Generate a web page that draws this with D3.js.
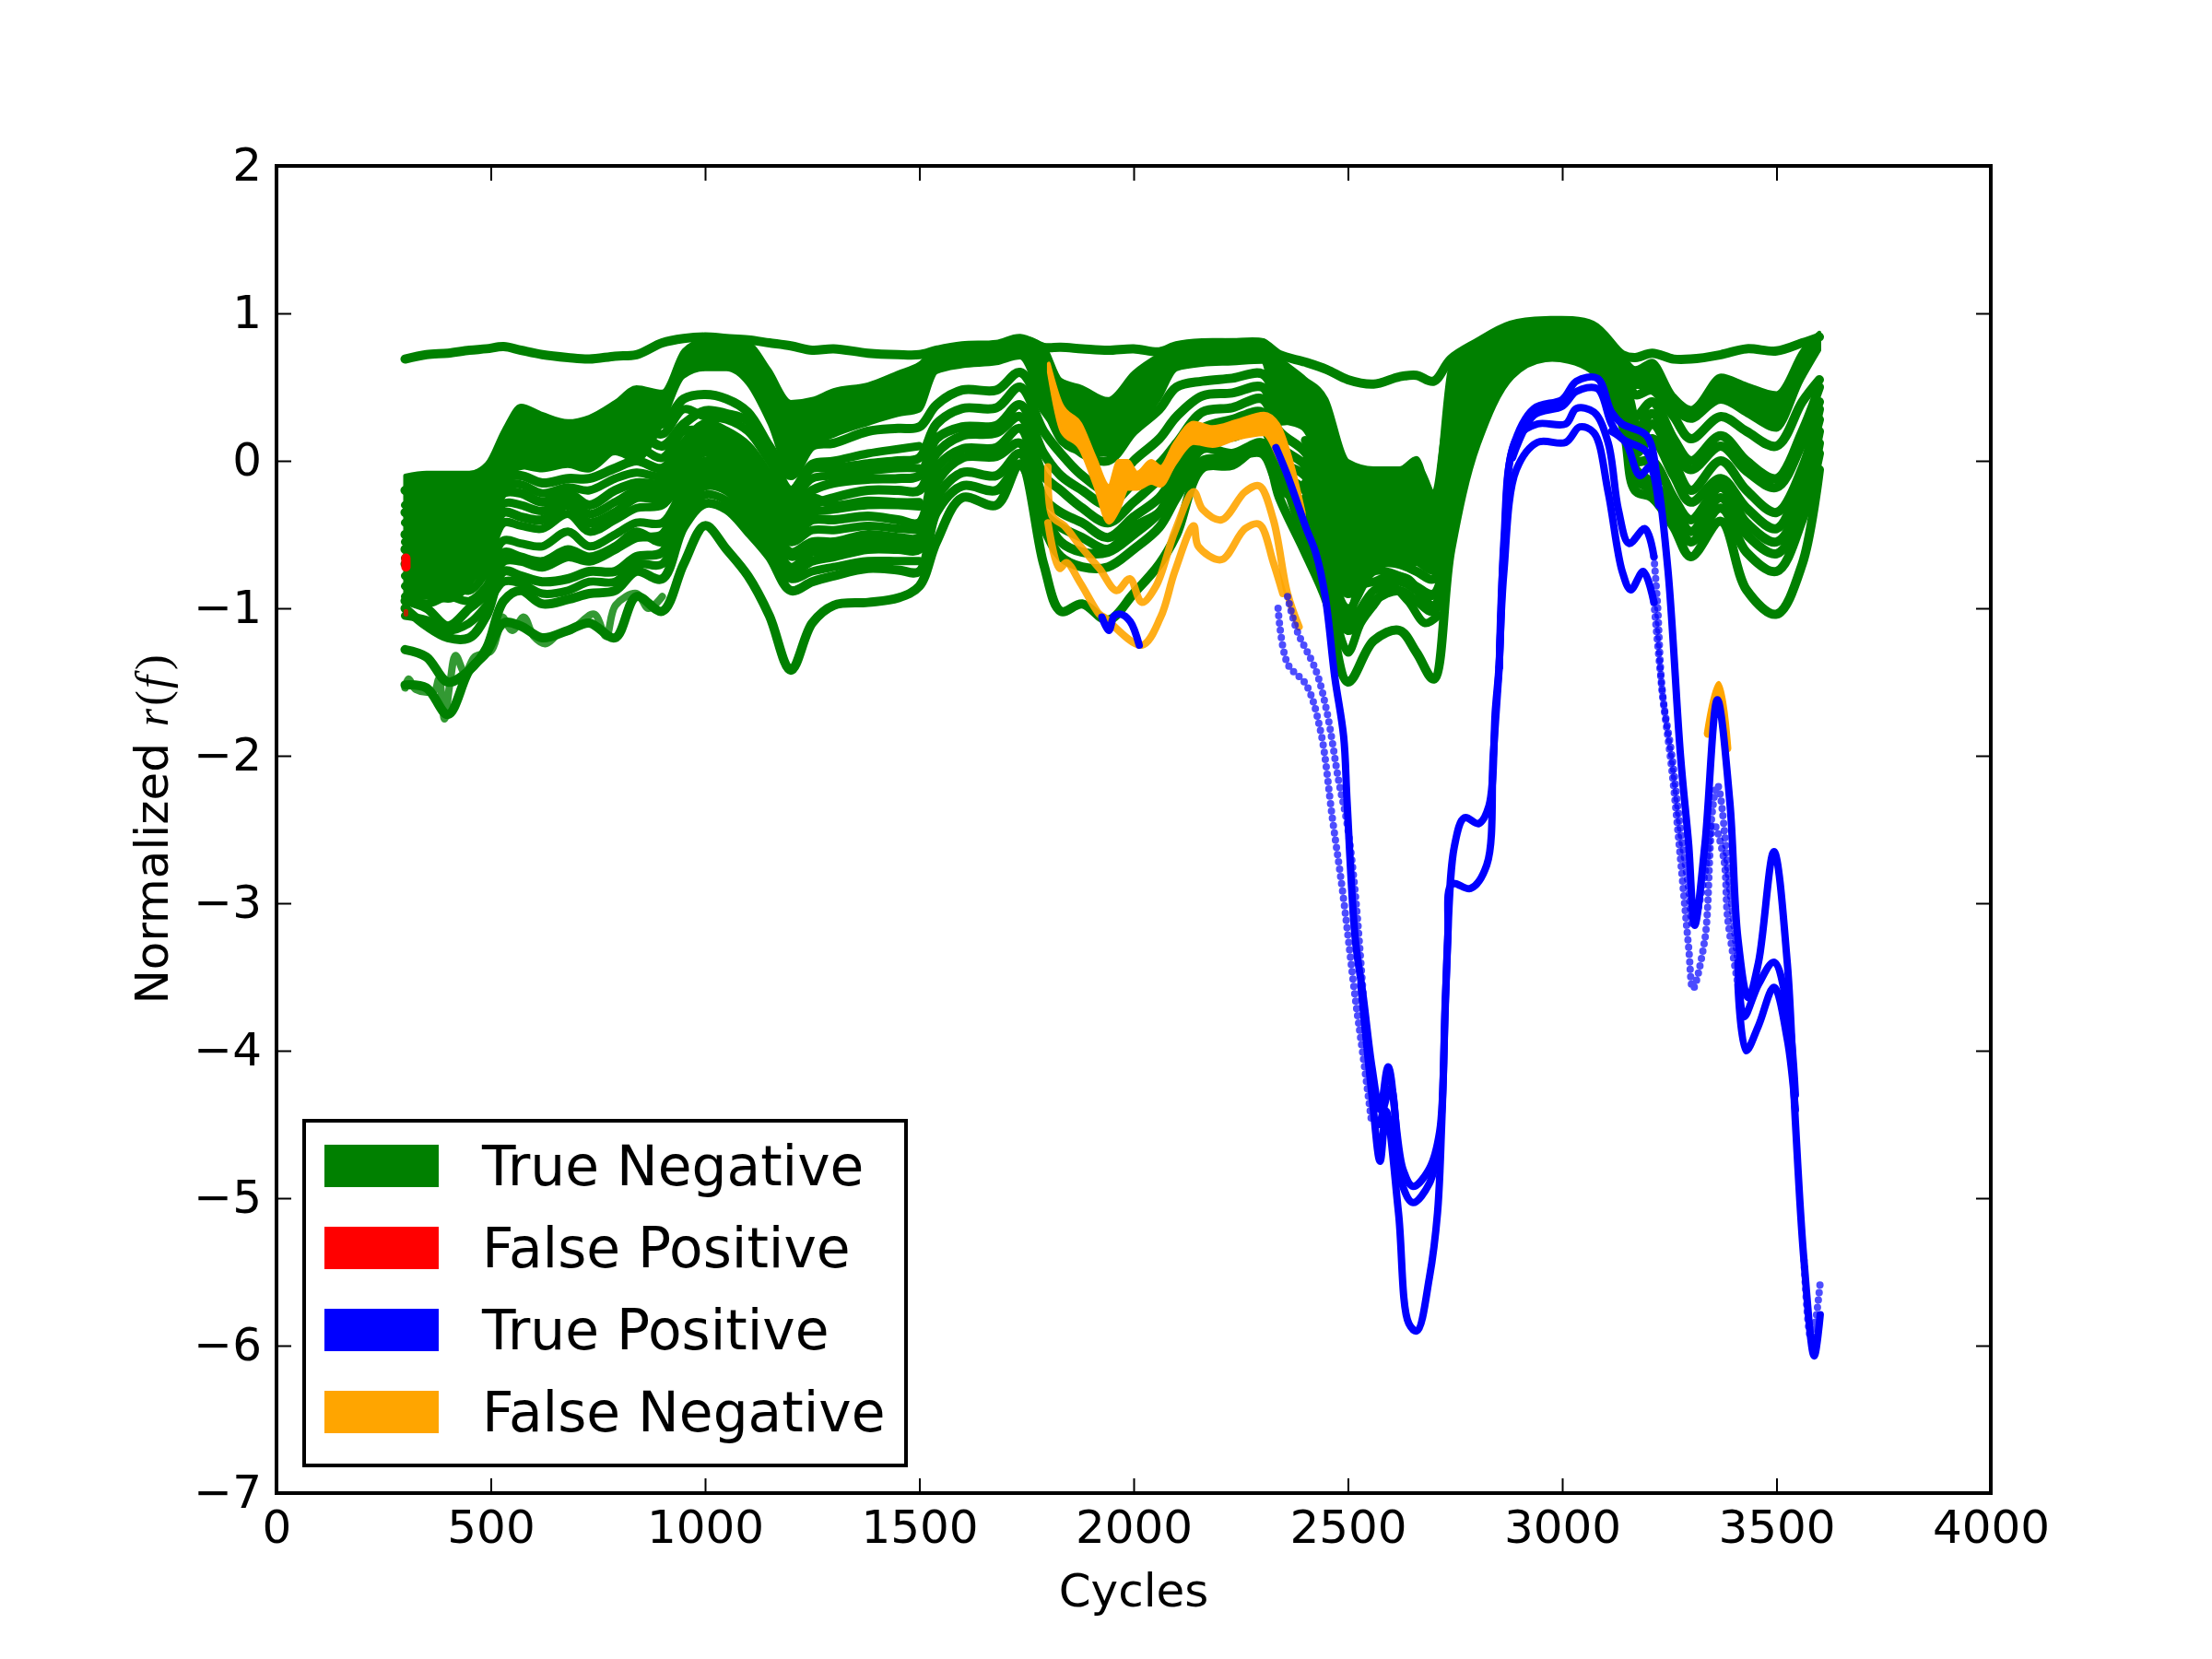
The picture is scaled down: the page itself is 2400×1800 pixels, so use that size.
<!DOCTYPE html>
<html><head><meta charset="utf-8">
<script src="https://cdn.jsdelivr.net/npm/d3@7"></script>
<style>html,body{margin:0;padding:0;background:#fff}svg{display:block}text{font-family:"DejaVu Sans";fill:#000}</style>
</head><body><svg id="c" width="2400" height="1800"></svg>
<script>
const xTicks=[0,500,1000,1500,2000,2500,3000,3500,4000];
const yTicks=[2,1,0,-1,-2,-3,-4,-5,-6,-7];
const legendLabels=["True Negative","False Positive","True Positive","False Negative"];
const legendColors=["#008000","#ff0000","#0000ff","#ffa500"];

const grid=[300,350,400,450,490,530,570,620,680,730,790,840,900,950,1000,1050,1100,1150,1200,1250,1300,1380,1450,1500,1540,1600,1680,1735,1790,1830,1880,1940,2000,2060,2100,2160,2230,2300,2340,2400,2450,2500,2560,2620,2660,2700,2740,2800,2880,2960,3070,3140,3170,3210,3260,3300,3370,3430,3500,3560,3600];
const tnBandTop=[-.1,-.08,-.08,-.08,-.02,.21,.375,.32,.27,.3,.4,.5,.47,.75,.82,.82,.8,.62,.4,.42,.48,.52,.6,.66,.76,.78,.8,.84,.78,.55,.5,.42,.6,.72,.78,.81,.82,.82,.7,.56,.42,0,-.05,-.05,.02,-.25,.65,.79,.92,.95,.92,.72,.63,.68,.45,.36,.58,.52,.46,.75,.87];
const tnBandBottom=[-.95,-.93,-.95,-.85,-.6,-.1,-.05,-.02,0,0,.05,0,.25,.57,.62,.62,.52,.25,-.1,.1,.17,.25,.31,.34,.6,.64,.66,.7,.35,.12,.05,.04,.2,.42,.62,.65,.66,.67,.25,.27,-.08,-.7,-.7,-.7,-.7,-.72,-.1,.55,.6,.7,.65,.5,.5,.5,.33,.27,.4,.31,.21,.55,.75];
const tnTop=[.69,.72,.73,.75,.76,.775,.75,.72,.7,.69,.71,.72,.8,.83,.84,.83,.82,.8,.78,.75,.76,.73,.72,.72,.75,.78,.79,.83,.77,.77,.76,.75,.76,.74,.78,.8,.8,.8,.72,.67,.62,.55,.52,.57,.58,.54,.69,.8,.92,.95,.92,.72,.7,.73,.69,.69,.72,.76,.745,.8,.84];
const tn1=[-.2,-.25,-.2,-.25,-.1,.1,.2,.15,.15,.12,.3,.3,.25,.42,.45,.42,.33,.1,-.1,.1,.12,.2,.22,.23,.38,.48,.48,.6,.35,.2,.05,0,.2,.35,.5,.54,.56,.59,.42,.27,0,-.3,-.1,-.08,-.05,-.25,.35,.7,.85,.9,.85,.65,.45,.48,.3,.15,.3,.2,.1,.4,.55];
const tn2=[-.35,-.4,-.35,-.4,-.25,0,.05,.03,.05,0,.15,.2,.1,.25,.34,.32,.27,.05,-.2,-.05,-.05,-.02,0,.02,.25,.355,.36,.5,.2,.05,-.1,-.2,0,.15,.3,.44,.46,.5,.3,.23,-.1,-.4,-.2,-.18,-.18,-.35,.2,.6,.8,.88,.82,.6,.3,.4,.15,0,.17,0,-.12,.2,.5];
const tn3=[-.5,-.52,-.5,-.5,-.4,-.12,-.1,-.15,-.12,-.12,-.05,0,-.05,.12,.25,.2,.1,-.1,-.3,-.2,-.15,-.125,-.12,-.1,.15,.23,.24,.38,.05,-.1,-.2,-.3,-.15,-.02,.12,.33,.36,.42,.2,.06,-.2,-.5,-.3,-.3,-.32,-.45,.1,.55,.78,.86,.8,.55,.2,.32,.08,-.06,.1,-.07,-.18,.12,.4];
const tn4=[-.6,-.62,-.6,-.62,-.5,-.22,-.22,-.28,-.22,-.3,-.2,-.15,-.15,.02,.15,.12,0,-.2,-.4,-.3,-.25,-.2,-.2,-.2,.05,.17,.19,.3,-.1,-.2,-.32,-.42,-.28,-.12,.02,.22,.28,.33,.1,-.03,-.3,-.6,-.4,-.42,-.42,-.52,0,.5,.75,.85,.78,.5,.1,.25,0,-.2,0,-.2,-.35,-.05,.35];
const tn5=[-.7,-.72,-.68,-.72,-.6,-.35,-.38,-.4,-.3,-.42,-.35,-.25,-.25,-.05,.06,.03,-.1,-.3,-.5,-.4,-.4,-.375,-.4,-.42,-.05,.08,.09,.22,-.25,-.35,-.42,-.52,-.38,-.25,-.08,.15,.16,.22,0,-.1,-.4,-.7,-.5,-.52,-.5,-.6,-.1,.45,.72,.82,.75,.45,.05,.15,-.1,-.28,-.12,-.32,-.46,-.1,.28];
const tn6=[-.95,-1,-1.12,-1,-.9,-.68,-.68,-.72,-.65,-.68,-.6,-.52,-.5,-.18,-.04,-.07,-.2,-.4,-.62,-.55,-.55,-.5,-.52,-.52,-.15,.02,.03,.12,-.35,-.45,-.52,-.6,-.45,-.35,-.2,.08,.05,.12,-.08,-.2,-.5,-.8,-.6,-.6,-.62,-.68,-.2,.4,.7,.8,.72,.4,0,0,-.25,-.4,-.18,-.42,-.55,-.25,.2];
const tn7=[-1,-1.12,-1.2,-1.2,-1.05,-.75,-.78,-.82,-.8,-.75,-.75,-.65,-.62,-.3,-.17,-.2,-.35,-.52,-.75,-.68,-.65,-.6,-.6,-.6,-.25,-.08,-.1,.05,-.35,-.55,-.62,-.62,-.5,-.35,-.15,-.02,.02,.05,-.18,-.31,-.6,-.9,-.7,-.7,-.75,-.8,-.3,.35,.66,.78,.7,.35,-.05,-.15,-.3,-.48,-.25,-.5,-.63,-.35,.12];
const tn8=[-1.28,-1.33,-1.5,-1.42,-1.27,-.95,-.88,-.97,-.94,-.9,-.88,-.75,-.8,-.45,-.29,-.33,-.48,-.65,-.88,-.82,-.78,-.73,-.74,-.75,-.35,-.17,-.2,-.03,-.45,-.65,-.72,-.72,-.6,-.45,-.25,0,.02,.12,-.05,-.52,-.75,-1.15,-.95,-.88,-.95,-1.02,-.42,.25,.62,.74,.66,.3,-.12,-.2,-.35,-.55,-.32,-.62,-.75,-.4,.05];
const tn9=[-1.52,-1.54,-1.72,-1.42,-1.3,-1.1,-1.12,-1.2,-1.15,-1.1,-1.2,-.92,-1.02,-.7,-.44,-.6,-.78,-1.05,-1.42,-1.1,-.98,-.96,-.93,-.85,-.55,-.25,-.3,-.02,-.7,-1.02,-.97,-1.08,-.9,-.7,-.5,-.05,-.03,.1,-.25,-.62,-.95,-1.5,-1.22,-1.15,-1.3,-1.48,-.6,.12,.58,.7,.62,.25,-.2,-.25,-.45,-.65,-.41,-.875,-1.04,-.7,-.06];
const tn10=[-.3,-.32,-.28,-.3,-.2,.05,.1,.12,.08,.06,.22,.25,.18,.35,.3,.28,.2,0,-.2,-.02,0,.05,.08,.1];
const tn11=[-.42,-.45,-.42,-.45,-.33,-.05,-.03,-.05,-.02,-.05,.08,.1,.02,.2,.2,.15,.05,-.15,-.25,-.12,-.1,-.07,-.05,-.05];
const tn12=[-.55,-.57,-.55,-.56,-.45,-.17,-.16,-.22,-.18,-.2,-.12,-.08,-.1,.07,.2,.16,.05,-.15,-.35,-.25,-.3,-.27,-.28,-.28];
const tn13=[-.66,-.68,-.64,-.67,-.55,-.29,-.3,-.34,-.26,-.36,-.28,-.2,-.2,-.02,.1,.07,-.05,-.25,-.45,-.35,-.33,-.3,-.3,-.31];
const tn14=[-.78,-.82,-.78,-.8,-.68,-.42,-.44,-.46,-.36,-.48,-.4,-.32,-.3,-.12,0,-.02,-.15,-.35,-.55,-.47,-.47,-.44,-.46,-.47];
const tn15=[-.85,-.9,-.85,-.88,-.75,-.54,-.56,-.58,-.48,-.58,-.5,-.42,-.42,-.2,-.08,-.1,-.25,-.45,-.65,-.58,-.58,-.55,-.56,-.56];
const tn16=[-.92,-.97,-.92,-.95,-.85,-.62,-.65,-.68,-.6,-.65,-.58,-.48,-.55,-.25,-.12,-.15,-.3,-.5,-.72,-.62,-.62,-.58,-.58,-.58];
const tn17=[-1.05,-1.08,-1.15,-1.1,-.98,-.82,-.83,-.9,-.88,-.82,-.82,-.7,-.7,-.38,-.23,-.27,-.42,-.6,-.8,-.75,-.72,-.68,-.68,-.68];
const lateGrid=[2400,2450,2500,2560,2620,2660,2700,2740,2800,2880,2960,3070,3140,3170];
const tnLate1=[.14,-.15,-.45,-.25,-.24,-.25,-.4,.15,.58,.79,.87,.81,.58,.25];
const tnLate2=[0,-.25,-.55,-.35,-.36,-.37,-.48,.05,.52,.76,.85,.79,.52,.15];
const tnLate3=[-.07,-.35,-.65,-.45,-.47,-.46,-.56,-.05,.47,.73,.83,.76,.47,.08];
const tnLate4=[-.15,-.45,-.75,-.55,-.56,-.56,-.64,-.15,.42,.71,.81,.73,.42,.02];
const tnLate5=[-.25,-.55,-.85,-.65,-.65,-.68,-.74,-.25,.38,.68,.79,.71,.38,-.02];
const tnLate6=[-.4,-.68,-1,-.75,-.78,-.85,-.9,-.36,.3,.64,.76,.68,.32,-.1];
const tnLate7=[-.45,-.85,-1.1,-.88,-.82,-.88,-.98,-.38,.2,.6,.72,.64,.28,-.15];
const tnJumbleCycles=[2470,2500,2530,2560,2600,2640,2680,2710];
const tnJumbleA=[-1.05,-1.3,-1.1,-.98,-.85,-.95,-1.1,-1.05];
const tnJumbleB=[-.9,-1.05,-.85,-.82,-.78,-.8,-.92,-.9];
const tnLowCycles=[300,308,325,368,379,392,405,418,440,462,500,516,527,550,577,600,627,660,687,741,769,791,840,868,900];
const tnLowValues=[-1.54,-1.48,-1.55,-1.56,-1.48,-1.75,-1.5,-1.32,-1.44,-1.33,-1.29,-1.17,-1.06,-1.15,-1.06,-1.19,-1.24,-1.17,-1.15,-1.04,-1.19,-.98,-.9,-1,-.92];

const fpCyclesA=[302,302], fpValuesA=[-.66,-.72];
const fpCyclesB=[302,302], fpValuesB=[-1.02,-1.04];

const fnBandCycles=[1802,1832,1876,1910,1942,1965,1986,2008,2041,2063,2096,2140,2184,2240,2304,2337,2370,2397];
const fnBandTop=[.66,.38,.25,.02,-.17,0,0,-.08,0,-.04,.12,.26,.23,.27,.32,.25,-.02,-.35];
const fnBandBottom=[.6,.2,.08,-.17,-.42,-.33,-.19,-.19,-.15,-.17,-.02,.12,.1,.15,.18,.02,-.2,-.44];
const fnCyclesA=[1800,1810,1838,1876,1920,1960,1991,2019,2052,2096,2140,2161,2205,2260,2293,2326,2359,2386];
const fnValuesA=[-.04,-.375,-.44,-.58,-.73,-.88,-.8,-.96,-.85,-.48,-.21,-.33,-.4,-.21,-.17,-.4,-.9,-1.125];
const fnCyclesB=[1800,1827,1843,1876,1920,1931,2019,2063,2096,2140,2151,2205,2260,2293,2326,2348];
const fnValuesB=[-.42,-.73,-.69,-.83,-1.04,-1.06,-1.25,-1.06,-.75,-.44,-.58,-.67,-.46,-.43,-.69,-.9];
const fnCyclesC=[3340,3365,3385], fnValuesC=[-1.85,-1.52,-1.95];

const tpMainCycles=[2332,2359,2403,2425,2447,2469,2490,2498,2517,2536,2556,2575,2594,2628,2652,2690,2714,2728,2748,2772,2805,2829,2844,2853,2864,2884,2934,3000,3033,3082,3115,3140,3197,3222,3247,3276,3295,3309,3333,3362,3391,3410,3434,3458,3494,3525,3544,3564,3588,3602];
const tpMainValues=[.09,-.1,-.46,-.625,-.92,-1.46,-1.87,-2.31,-3.24,-3.64,-4.11,-4.4,-4.11,-4.8,-4.92,-4.8,-4.55,-3.61,-2.62,-2.42,-2.46,-2.34,-1.69,-1.375,-.54,.08,.355,.416,.54,.56,.33,.25,.17,-.125,-.75,-2,-2.6,-3.15,-2.6,-1.62,-2.31,-3.24,-3.64,-3.4,-2.65,-3.4,-4.48,-5.42,-6.07,-5.79];
const tpThickCycles=[2884,2934,3000,3033,3082,3115,3140,3197,3222];
const tpThickValues=[.02,.31,.37,.47,.49,.25,.15,.06,-.2];
const tpLaceCycles=[3115,3148,3181,3205,3225];
const tpLaceValues=[.2,.125,-.1,-.04,-.3];
const tpTroughCycles=[2530,2556,2575,2589,2618,2642,2661,2690,2709,2719,2733,2743,2786,2824,2839,2853];
const tpTroughValues=[-3.55,-4.3,-4.75,-4.41,-5.1,-5.85,-5.9,-5.54,-5.1,-4.48,-3.24,-2.87,-2.9,-2.74,-2,-1.4];
const tpShelfCycles=[2575,2600,2628,2652,2690,2714];
const tpShelfValues=[-4.5,-4.25,-4.92,-5.03,-4.9,-4.6];
const tpHat2Cycles=[2853,2864,2893,2942,3008,3033,3074,3107,3131,3156,3193,3214];
const tpHat2Values=[-1.4,-.6,.15,.25,.25,.355,.33,.125,-.33,-.56,-.46,-.65];
const tpHat3Cycles=[2853,2864,2893,2942,3008,3041,3074,3107,3140,3160,3189,3214];
const tpHat3Values=[-1.4,-.75,-.06,.125,.125,.23,.19,-.21,-.75,-.875,-.75,-.96];
const tpFall2Cycles=[3214,3222,3234,3256,3276,3295,3305,3333,3362,3391,3410];
const tpFall2Values=[-.65,-.96,-1.58,-2,-2.5,-2.9,-3.15,-2.8,-2.2,-2.9,-3.4];
const tpFall3Cycles=[3214,3234,3256,3276,3295,3305,3333,3353,3377,3386,3410];
const tpFall3Values=[-.96,-1.58,-2.1,-2.7,-3.3,-3.58,-3.24,-2.46,-2.7,-3.1,-3.55];
const tpBasin2Cycles=[3410,3424,3458,3494,3525,3544];
const tpBasin2Values=[-3.4,-3.77,-3.55,-3.4,-3.7,-4.3];
const tpBasin3Cycles=[3410,3429,3458,3494,3525,3544];
const tpBasin3Values=[-3.55,-4,-3.83,-3.57,-3.92,-4.4];
const tpLeadACycles=[2337,2359,2403,2436,2464,2488,2517,2536,2556];
const tpLeadAValues=[-1,-1.375,-1.52,-1.83,-2.43,-2.93,-3.64,-4.05,-4.5];
const tpLeadBCycles=[2359,2381,2425,2450,2479,2498,2517,2536];
const tpLeadBValues=[-.92,-1.15,-1.42,-1.69,-2.18,-2.46,-2.93,-3.64];
const tpTailCycles=[3564,3580,3590,3602];
const tpTailValues=[-5.42,-5.95,-5.85,-5.57];
const tpIsleCycles=[1926,1942,1955,1970,1992,2013];
const tpIsleValues=[-1.06,-1.15,-1.05,-1.04,-1.09,-1.25];

const svg=d3.select("#c");
const x=d3.scaleLinear().domain([0,4000]).range([300,2160]);
const y=d3.scaleLinear().domain([2,-7]).range([180,1620]);
const line=d3.line().x(d=>x(d[0])).y(d=>y(d[1])).curve(d3.curveCatmullRom.alpha(.5));
const zip=(a,b)=>a.map((v,i)=>[v,b[i]]);
const plot=svg.append("g");
function stroke(cyc,val,color,w,op){plot.append("path").attr("d",line(zip(cyc,val))).attr("fill","none").attr("stroke",color).attr("stroke-width",w).attr("stroke-linecap","round").attr("stroke-linejoin","round").attr("stroke-opacity",op);}
function dots(cyc,val,color,w,op){plot.append("path").attr("d",line(zip(cyc,val))).attr("fill","none").attr("stroke",color).attr("stroke-width",w).attr("stroke-linecap","round").attr("stroke-dasharray","0 8").attr("stroke-opacity",op);}
function band(cyc,top,bot,color){plot.append("path").attr("d",d3.area().x(d=>x(d[0])).y0(d=>y(d[1])).y1(d=>y(d[2])).curve(d3.curveMonotoneX)(cyc.map((c,i)=>[c,top[i],bot[i]]))).attr("fill",color).attr("stroke",color).attr("stroke-width",4).attr("stroke-linejoin","round");}

const G=legendColors[0],R=legendColors[1],B=legendColors[2],O=legendColors[3];
band(grid,tnBandTop,tnBandBottom,G);
[tnTop,tn1,tn2,tn3,tn4,tn5,tn6,tn7,tn8,tn9].forEach(v=>stroke(grid,v,G,10,1));
[tn10,tn11,tn12,tn13,tn14,tn15,tn16,tn17].forEach(v=>stroke(grid.slice(0,v.length),v,G,9,1));
[tnLate1,tnLate2,tnLate3,tnLate4,tnLate5,tnLate6,tnLate7].forEach(v=>stroke(lateGrid,v,G,9,1));
stroke(tnJumbleCycles,tnJumbleA,G,9,1);
stroke(tnJumbleCycles,tnJumbleB,G,9,1);
stroke(tnLowCycles,tnLowValues,G,8,.8);
stroke(fpCyclesA,fpValuesA,R,10,1);
stroke(fpCyclesB,fpValuesB,R,5,.7);
band(fnBandCycles,fnBandTop,fnBandBottom,O);
stroke(fnCyclesA,fnValuesA,O,8,.9);
stroke(fnCyclesB,fnValuesB,O,8,.9);
stroke(fnCyclesC,fnValuesC,O,9,1);
[[tpMainCycles,tpMainValues],[tpThickCycles,tpThickValues],[tpLaceCycles,tpLaceValues],[tpTroughCycles,tpTroughValues],[tpShelfCycles,tpShelfValues],[tpHat2Cycles,tpHat2Values],[tpHat3Cycles,tpHat3Values],[tpBasin2Cycles,tpBasin2Values],[tpBasin3Cycles,tpBasin3Values],[tpIsleCycles,tpIsleValues]].forEach(d=>stroke(d[0],d[1],B,8,1));
[[tpFall2Cycles,tpFall2Values],[tpFall3Cycles,tpFall3Values],[tpLeadACycles,tpLeadAValues],[tpLeadBCycles,tpLeadBValues],[tpTailCycles,tpTailValues]].forEach(d=>dots(d[0],d[1],B,8,.7));

const fmt=v=>String(v).replace("-","\u2212");
const tl=16;
function ax(axis,tr){const g=svg.append("g").attr("transform",tr).call(axis);g.select(".domain").remove();g.selectAll("line").attr("stroke","#000").attr("stroke-width",2);g.selectAll("text").style("font-size","50px").style("font-family","DejaVu Sans");return g;}
const gb=ax(d3.axisBottom(x).tickValues(xTicks).tickFormat(fmt).tickSizeInner(-tl).tickPadding(tl+15),"translate(0,1620)");
gb.selectAll("text").attr("dy",0).attr("y",54);
ax(d3.axisTop(x).tickValues(xTicks).tickFormat("").tickSizeInner(-tl),"translate(0,180)");
const gl=ax(d3.axisLeft(y).tickValues(yTicks).tickFormat(fmt).tickSizeInner(-tl).tickPadding(16),"translate(300,0)");
gl.selectAll("text").attr("dy",0).attr("y",15).attr("x",-16);
ax(d3.axisRight(y).tickValues(yTicks).tickFormat("").tickSizeInner(-tl),"translate(2160,0)");
svg.append("rect").attr("x",300).attr("y",180).attr("width",1860).attr("height",1440).attr("fill","none").attr("stroke","#000").attr("stroke-width",4);

svg.append("text").attr("x",1230).attr("y",1743).attr("text-anchor","middle").style("font-size","50px").text("Cycles");
const yl=svg.append("text").attr("transform","translate(182,900) rotate(-90)").attr("text-anchor","middle").style("font-size","50px");
yl.append("tspan").text("Normalized ");
[["r",true,2],["(",false,3],["f",true,2],[")",false,6]].forEach(p=>{const t=yl.append("tspan").attr("dx",p[2]).text(p[0]).style("font-family","Liberation Serif").style("font-size","50px");if(p[1])t.style("font-style","italic");});

const lg=svg.append("g");
lg.append("rect").attr("x",330).attr("y",1216).attr("width",653).attr("height",374).attr("fill","#fff").attr("stroke","#000").attr("stroke-width",4);
legendLabels.forEach((t,i)=>{
  lg.append("rect").attr("x",352).attr("y",1242+i*89).attr("width",124).attr("height",46).attr("fill",legendColors[i]);
  lg.append("text").attr("x",523).attr("y",1286+i*89).style("font-size","59.8px").text(t);
});
</script></body></html>
